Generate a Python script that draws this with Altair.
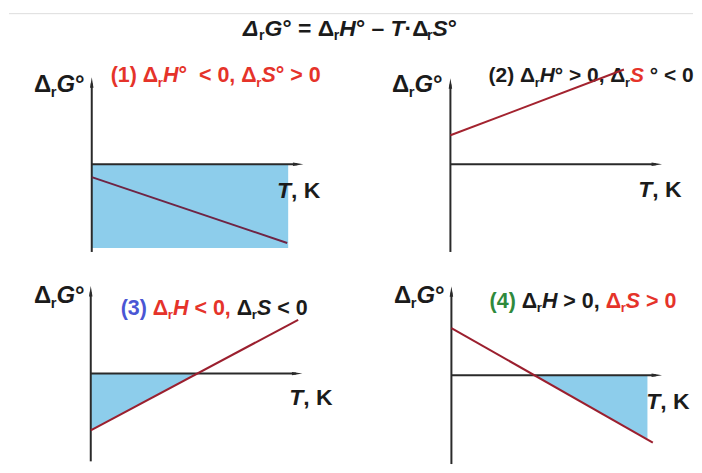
import altair as alt
import pandas as pd

# ---------------- data ----------------
# T in arbitrary units, ΔrG° in arbitrary units
p1_line_T = [0.0, 9.8]
p1_line_G = [-1.3, -7.9]
p1_fill_T = [0.0, 9.85]
p1_fill_G = [-8.4, -8.4]
p1_fill_G2 = [0.0, 0.0]

p2_line_T = [0.0, 8.7]
p2_line_G = [2.9, 9.5]
p2_fill_T = []
p2_fill_G = []
p2_fill_G2 = []

p3_line_T = [0.0, 10.4]
p3_line_G = [-5.7, 5.4]
p3_fill_T = [0.0, 5.34]
p3_fill_G = [-5.7, 0.0]
p3_fill_G2 = [0.0, 0.0]

p4_line_T = [0.0, 10.1]
p4_line_G = [4.74, -6.76]
p4_fill_T = [4.16, 9.83]
p4_fill_G = [0.0, -6.45]
p4_fill_G2 = [0.0, 0.0]

# axis extents of each panel (arrow tips and bottom of the ΔG axis)
axis_T_tip = [10.6, 10.6, 10.6, 10.55]
axis_G_tip = [8.7, 8.6, 8.75, 8.9]
axis_G_bottom = [-8.8, -8.8, -8.8, -8.9]

# ---------------- styling / layout ----------------
FONT = "Liberation Sans"
FILL = "#8DCDEB"
AXIS_C = "#2a2a2a"
LINE_C = ["#6f2444", "#a3232f", "#9b1f2e", "#9b1f2e"]
RED = "#E5332A"
BLU = "#4A56D4"
GRN = "#2F8A3C"
BLK = "#1b1b1b"
NB = "\u00a0"

PANEL_W = 343
TOP = 45                      # title band placed on top of the first row
ROW_H = [212 + TOP, 200]
KX, KY = 20.0, 10.0           # px per unit
ORIGINS = [(83, 111 + TOP), (99.7, 111 + TOP), (82, 109), (100.7, 110.7)]

EM = {' ': 0.278, NB: 0.278, '(': 0.333, ')': 0.333, ',': 0.278, '.': 0.278, '<': 0.584,
      '>': 0.584, '=': 0.584, '°': 0.4, 'Δ': 0.70, 'r': 0.389, '·': 0.278,
      '–': 0.556, 'H': 0.722, 'S': 0.667, 'G': 0.778, 'T': 0.611, 'K': 0.722}


def str_w(s, fs):
    return sum(EM.get(c, 0.556) for c in s) * fs


def text_width(parts, size):
    w = 0
    for text, color, italic, sub in parts:
        fs = size * 0.62 if sub else size
        w += str_w(text, fs)
    return w


def text_layers(parts, x0, base, size):
    layers = []
    x = x0
    dummy = pd.DataFrame({"a": [0]})
    for text, color, italic, sub in parts:
        fs = size * 0.62 if sub else size
        y = base + size * 0.2 if sub else base
        core = text.strip(" ")
        lead = len(text) - len(text.lstrip(" "))
        if core:
            layers.append(
                alt.Chart(dummy).mark_text(
                    text=core.replace(" ", NB), align="left", baseline="alphabetic", font=FONT,
                    fontSize=fs, fontWeight="bold",
                    fontStyle="italic" if italic else "normal", color=color,
                ).encode(x=alt.value(x + str_w(" " * lead, fs)), y=alt.value(y))
            )
        x += str_w(text, fs)
    return layers


F, T_ = False, True
G_LABEL = [("Δ", BLK, F, F), ("r", BLK, F, T_), ("G", BLK, T_, F), ("°", BLK, F, F)]
TK_LABEL = [("T", BLK, T_, F), (", K", BLK, F, F)]

LABELS = [
    [("(1) Δ", RED, F, F), ("r", RED, F, T_), ("H", RED, T_, F), ("°  < 0, Δ", RED, F, F),
     ("r", RED, F, T_), ("S", RED, T_, F), ("° > 0", RED, F, F)],
    [("(2) Δ", BLK, F, F), ("r", BLK, F, T_), ("H", BLK, T_, F), ("° > 0, Δ", BLK, F, F),
     ("r", BLK, F, T_), ("S", RED, T_, F), (" ° < 0", BLK, F, F)],
    [("(3)", BLU, F, F), (" Δ", RED, F, F), ("r", RED, F, T_), ("H", RED, T_, F), (" < 0,", RED, F, F),
     (" Δ", BLK, F, F), ("r", BLK, F, T_), ("S", BLK, T_, F), (" < 0", BLK, F, F)],
    [("(4)", GRN, F, F), (" Δ", BLK, F, F), ("r", BLK, F, T_), ("H", BLK, T_, F), (" > 0,", BLK, F, F),
     (" Δ", RED, F, F), ("r", RED, F, T_), ("S", RED, T_, F), (" > 0", RED, F, F)],
]
LABEL_SIZES = [21.5, 21, 21.5, 21.5]
# text anchor positions within each panel (px, baseline)
G_POS = [(25, 39 + TOP), (41, 39 + TOP), (25, 38), (43, 38)]
LABEL_POS = [(102, 29 + TOP), (138, 29 + TOP), (112, 50), (139, 43)]
TK_POS = [(268.7, 145 + TOP), (288, 144 + TOP), (281, 140), (296, 145)]

ARROW_H = "M-1,-0.33L1,0L-1,0.33Z"
ARROW_V = "M-0.33,1L0,-1L0.33,1Z"

TITLE = [("Δ", BLK, T_, F), ("r", BLK, F, T_), ("G", BLK, T_, F), ("° = Δ", BLK, F, F),
         ("r", BLK, F, T_), ("H", BLK, T_, F), ("° – ", BLK, F, F), ("T", BLK, T_, F),
         ("·Δ", BLK, F, F), ("r", BLK, F, T_), ("S", BLK, T_, F), ("°", BLK, F, F)]
TITLE_SIZE = 23


def panel(i, line_T, line_G, fill_T, fill_G, fill_G2, H, with_title=False):
    ox, oy = ORIGINS[i]
    xs = alt.Scale(domain=[-ox / KX, (PANEL_W - ox) / KX], nice=False, zero=False)
    ys = alt.Scale(domain=[-(H - oy) / KY, oy / KY], nice=False, zero=False)

    def X(f):
        return alt.X(f, type="quantitative", scale=xs, axis=None)

    def Y(f):
        return alt.Y(f, type="quantitative", scale=ys, axis=None)

    layers = []
    if with_title:
        layers.append(alt.Chart(pd.DataFrame({"a": [0]})).mark_rule(color="#dedede", strokeWidth=1)
                      .encode(x=alt.value(0), x2=alt.value(2 * PANEL_W), y=alt.value(5)))
        tw = text_width(TITLE, TITLE_SIZE)
        layers += text_layers(TITLE, 342 - tw / 2, 27, TITLE_SIZE)
    if fill_T:
        fill_df = pd.DataFrame({"T": fill_T, "G": fill_G, "G2": fill_G2})
        layers.append(alt.Chart(fill_df).mark_area(color=FILL, opacity=1)
                      .encode(x=X("T"), y=Y("G"), y2="G2"))
    t_tip, g_tip, g_bot = axis_T_tip[i], axis_G_tip[i], axis_G_bottom[i]
    axes_df = pd.DataFrame({"x": [0.0, 0.0], "x2": [0.0, t_tip - 0.3],
                            "y": [g_bot, 0.0], "y2": [g_tip - 0.6, 0.0]})
    layers.append(alt.Chart(axes_df).mark_rule(color=AXIS_C, strokeWidth=2)
                  .encode(x=X("x"), x2="x2", y=Y("y"), y2="y2"))
    layers.append(alt.Chart(pd.DataFrame({"T": [t_tip - 0.25], "G": [0.0]}))
                  .mark_point(shape=ARROW_H, filled=True, size=110, color=AXIS_C, opacity=1)
                  .encode(x=X("T"), y=Y("G")))
    layers.append(alt.Chart(pd.DataFrame({"T": [0.0], "G": [g_tip - 0.5]}))
                  .mark_point(shape=ARROW_V, filled=True, size=110, color=AXIS_C, opacity=1)
                  .encode(x=X("T"), y=Y("G")))
    layers += text_layers(G_LABEL, G_POS[i][0], G_POS[i][1], 24)
    layers += text_layers(LABELS[i], LABEL_POS[i][0], LABEL_POS[i][1], LABEL_SIZES[i])
    layers += text_layers(TK_LABEL, TK_POS[i][0], TK_POS[i][1], 23)
    line_df = pd.DataFrame({"T": line_T, "G": line_G})
    layers.append(alt.Chart(line_df).mark_line(color=LINE_C[i], strokeWidth=2)
                  .encode(x=X("T"), y=Y("G")))
    return alt.layer(*layers).properties(width=PANEL_W, height=H)


p1 = panel(0, p1_line_T, p1_line_G, p1_fill_T, p1_fill_G, p1_fill_G2, ROW_H[0], with_title=True)
p2 = panel(1, p2_line_T, p2_line_G, p2_fill_T, p2_fill_G, p2_fill_G2, ROW_H[0])
p3 = panel(2, p3_line_T, p3_line_G, p3_fill_T, p3_fill_G, p3_fill_G2, ROW_H[1])
p4 = panel(3, p4_line_T, p4_line_G, p4_fill_T, p4_fill_G, p4_fill_G2, ROW_H[1])

chart = alt.concat(p1, p2, p3, p4, columns=2, spacing=0, bounds="flush").properties(
    padding=0).configure_view(stroke=None)

chart.save("out.html", embed_options={"renderer": "svg", "actions": False})
